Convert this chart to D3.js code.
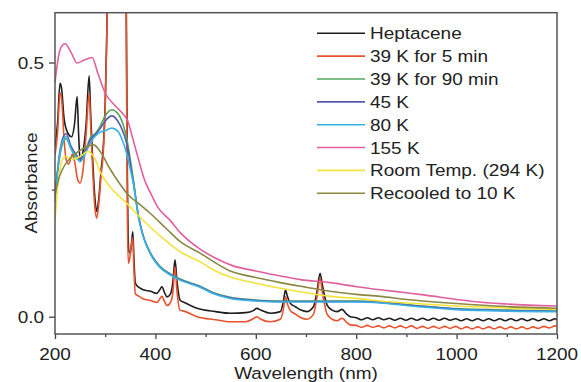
<!DOCTYPE html>
<html>
<head>
<meta charset="utf-8">
<script src="https://cdn.jsdelivr.net/npm/d3@7"></script>
<style>
  html, body { margin: 0; padding: 0; background: #fff; }
  svg { display: block; font-family: "Liberation Sans", Arial, Helvetica, sans-serif; }
</style>
</head>
<body>
<svg id="chart" width="581" height="382"></svg>
<script>
// Absorption spectra of heptacene under thermal treatment: [wavelength (nm), absorbance]
const heptacene = [
  [200,0.335],[205,0.38],[210,0.459],[213,0.45],[218,0.39],[223,0.367],[233,0.354],[239,0.38],
  [244,0.433],[247,0.36],[250,0.308],[255,0.32],[262,0.38],[268,0.474],[271,0.40],[275,0.31],
  [279,0.24],[283,0.207],[287,0.23],[292,0.29],[296,0.33],[300,0.42],[303,0.55],[306,0.72],
  [320,1.0],[338,0.95],[342,0.62],[344,0.30],[347,0.13],[350,0.125],[353,0.15],[355,0.167],
  [357,0.12],[360,0.066],[368,0.057],[376,0.053],[390,0.05],[403,0.046],[408,0.052],[413,0.059],
  [418,0.048],[423,0.039],[430,0.045],[435,0.07],[439,0.112],[443,0.07],[449,0.033],[460,0.027],
  [483,0.0165],[520,0.01],[549,0.0067],[580,0.008],[595,0.012],[602,0.0165],[610,0.013],[629,0.0067],
  [649,0.01],[655,0.03],[659,0.0525],[663,0.04],[669,0.026],[679,0.0197],[690,0.013],[702,0.01],
  [715,0.02],[722,0.05],[728,0.0854],[733,0.06],[742,0.023],[752,0.013],[762,0.01],[772,0.0145],
  [780,0.006],[788,0.0],[800,-0.002],[811,-0.006],[822,-0.002],[833,-0.006],[844,-0.002],[855,-0.006],
  [866,-0.003],[877,-0.007],[888,-0.003],[899,-0.007],[910,-0.003],[921,-0.007],[932,-0.003],[943,-0.007],
  [954,-0.003],[965,-0.007],[976,-0.003],[987,-0.007],[998,-0.004],[1009,-0.008],[1020,-0.004],[1031,-0.008],
  [1042,-0.004],[1053,-0.008],[1064,-0.004],[1075,-0.008],[1086,-0.004],[1097,-0.008],[1108,-0.004],[1119,-0.008],
  [1130,-0.004],[1141,-0.008],[1152,-0.004],[1163,-0.008],[1174,-0.004],[1185,-0.008],[1196,-0.004],[1200,-0.006]
];
const k39for5min = [
  [200,0.318],[205,0.36],[210,0.44],[213,0.43],[218,0.35],[222,0.31],[227,0.30],[235,0.32],
  [240,0.30],[245,0.27],[250,0.263],[256,0.29],[262,0.36],[268,0.44],[271,0.38],[275,0.29],
  [279,0.22],[283,0.194],[287,0.22],[292,0.28],[296,0.32],[300,0.41],[303,0.54],[306,0.72],
  [320,1.0],[338,0.95],[342,0.55],[344,0.22],[346,0.105],[348,0.11],[352,0.14],[355,0.155],
  [357,0.1],[360,0.045],[368,0.04],[376,0.035],[390,0.032],[403,0.028],[408,0.034],[413,0.04],
  [418,0.03],[423,0.022],[430,0.028],[435,0.05],[439,0.098],[443,0.05],[449,0.013],[460,0.01],
  [483,0.0],[520,-0.006],[549,-0.01],[580,-0.01],[595,-0.004],[602,0.0],[610,-0.005],[629,-0.01],
  [649,-0.005],[655,0.015],[659,0.039],[663,0.025],[669,0.012],[679,0.005],[690,-0.002],[702,-0.005],
  [715,0.005],[722,0.04],[728,0.075],[733,0.045],[742,0.005],[752,-0.005],[762,-0.008],[772,-0.003],
  [780,-0.01],[788,-0.016],[800,-0.017],[811,-0.021],[822,-0.017],[833,-0.021],[844,-0.018],[855,-0.022],
  [866,-0.018],[877,-0.022],[888,-0.018],[899,-0.022],[910,-0.018],[921,-0.023],[932,-0.019],[943,-0.023],
  [954,-0.019],[965,-0.023],[976,-0.019],[987,-0.023],[998,-0.019],[1009,-0.024],[1020,-0.020],[1031,-0.024],
  [1042,-0.020],[1053,-0.024],[1064,-0.020],[1075,-0.024],[1086,-0.020],[1097,-0.024],[1108,-0.020],[1119,-0.024],
  [1130,-0.020],[1141,-0.024],[1152,-0.020],[1163,-0.023],[1174,-0.019],[1185,-0.022],[1196,-0.018],[1200,-0.019]
];
const k39for90min = [
  [200,0.245],[207,0.30],[215,0.34],[222,0.35],[232,0.33],[245,0.31],[250,0.31],[260,0.325],
  [272,0.355],[280,0.36],[290,0.375],[300,0.395],[313,0.407],[325,0.40],[335,0.38],[343,0.35],
  [350,0.31],[356,0.27],[366,0.2],[375,0.162],[383,0.14],[395,0.117],[409,0.099],[430,0.084],
  [449,0.074],[489,0.06],[516,0.047],[549,0.038],[600,0.033],[649,0.031],[700,0.031],[748,0.031],
  [800,0.031],[848,0.029],[900,0.024],[1000,0.016],[1100,0.013],[1200,0.012]
];
const k45 = [
  [200,0.23],[207,0.305],[215,0.35],[222,0.36],[232,0.335],[245,0.315],[250,0.31],[260,0.325],
  [272,0.35],[280,0.358],[290,0.37],[300,0.385],[313,0.395],[325,0.385],[335,0.365],[343,0.34],
  [350,0.30],[356,0.265],[366,0.2],[375,0.161],[383,0.139],[395,0.116],[409,0.098],[430,0.083],
  [449,0.073],[489,0.059],[516,0.046],[549,0.037],[600,0.032],[649,0.030],[700,0.030],[748,0.030],
  [800,0.030],[848,0.028],[900,0.023],[1000,0.015],[1100,0.012],[1200,0.011]
];
const k80 = [
  [200,0.225],[207,0.30],[215,0.345],[222,0.354],[232,0.33],[245,0.31],[250,0.305],[260,0.32],
  [272,0.345],[280,0.355],[290,0.363],[300,0.366],[313,0.371],[325,0.365],[335,0.345],[343,0.32],
  [350,0.29],[356,0.263],[366,0.197],[375,0.16],[383,0.138],[395,0.115],[409,0.097],[430,0.082],
  [449,0.072],[489,0.058],[516,0.045],[549,0.036],[600,0.031],[649,0.029],[700,0.029],[748,0.029],
  [800,0.029],[848,0.027],[900,0.022],[1000,0.014],[1100,0.011],[1200,0.010]
];
const k155 = [
  [200,0.46],[205,0.50],[212,0.53],[220,0.537],[232,0.52],[244,0.499],[258,0.505],[274,0.51],
  [285,0.48],[300,0.44],[320,0.415],[337,0.397],[345,0.385],[355,0.35],[362,0.325],[369,0.30],
  [378,0.27],[389,0.246],[405,0.215],[429,0.19],[450,0.165],[489,0.133],[520,0.115],[555,0.1],
  [600,0.09],[649,0.08],[689,0.073],[748,0.067],[801,0.059],[848,0.053],[900,0.047],[934,0.043],
  [1000,0.034],[1033,0.030],[1100,0.025],[1200,0.021]
];
const roomTemp = [
  [200,0.19],[205,0.25],[212,0.30],[220,0.315],[235,0.31],[250,0.315],[265,0.325],[280,0.31],
  [290,0.285],[310,0.255],[330,0.235],[343,0.223],[360,0.205],[389,0.177],[420,0.15],[449,0.128],
  [489,0.108],[520,0.09],[549,0.078],[600,0.066],[649,0.056],[700,0.047],[748,0.040],[800,0.036],
  [848,0.031],[900,0.027],[1000,0.021],[1100,0.017],[1200,0.0145]
];
const recooled = [
  [200,0.24],[207,0.27],[215,0.29],[240,0.32],[260,0.333],[277,0.338],[290,0.325],[310,0.29],
  [330,0.26],[343,0.243],[370,0.22],[389,0.204],[420,0.175],[449,0.148],[489,0.125],[549,0.09],
  [600,0.077],[649,0.067],[700,0.058],[748,0.050],[800,0.044],[848,0.040],[900,0.034],[1000,0.026],
  [1100,0.020],[1200,0.0165]
];

const seriesNames = ["Heptacene", "39 K for 5 min", "39 K for 90 min", "45 K", "80 K", "155 K",
  "Room Temp. (294 K)", "Recooled to 10 K"];
const seriesData = [heptacene, k39for5min, k39for90min, k45, k80, k155, roomTemp, recooled];
const seriesColors = ["#1e1e1e", "#e8522c", "#4fa85e", "#5a58b0", "#38b2e4", "#e0609e", "#f2e33c", "#8a8842"];

const xTicks = [200, 400, 600, 800, 1000, 1200];
const xMinor = [300, 500, 700, 900, 1100];
const yTicks = [0.0, 0.5];
const yMinor = [0.25];

(function draw() {
  const svg = d3.select("#chart");
  const m = { left: 55, right: 557, top: 12.7, bottom: 334 };
  const x = d3.scaleLinear().domain([200, 1200]).range([m.left, m.right]);
  const y = d3.scaleLinear().domain([-0.034, 0.598]).range([m.bottom, m.top]);
  const sx = 1.15; // wide lettering

  svg.append("defs").append("clipPath").attr("id", "plotClip")
    .append("rect").attr("x", m.left).attr("y", m.top)
    .attr("width", m.right - m.left).attr("height", m.bottom - m.top);

  const line = d3.line().x(d => x(d[0])).y(d => y(d[1])).curve(d3.curveMonotoneX);

  const plot = svg.append("g").attr("clip-path", "url(#plotClip)");
  seriesData.forEach((data, i) => {
    plot.append("path").datum(data)
      .attr("fill", "none")
      .attr("stroke", seriesColors[i])
      .attr("stroke-width", 1.6)
      .attr("stroke-linejoin", "round")
      .attr("d", line);
  });

  // axes
  const xAxis = svg.append("g").attr("transform", `translate(0,${m.bottom})`)
    .call(d3.axisBottom(x).tickValues(xTicks).tickSize(5).tickFormat(""));
  const xAxisMinor = svg.append("g").attr("transform", `translate(0,${m.bottom})`)
    .call(d3.axisBottom(x).tickValues(xMinor).tickSize(3).tickFormat(""));
  const yAxis = svg.append("g").attr("transform", `translate(${m.left},0)`)
    .call(d3.axisLeft(y).tickValues(yTicks).tickSize(6).tickFormat(""));
  const yAxisMinor = svg.append("g").attr("transform", `translate(${m.left},0)`)
    .call(d3.axisLeft(y).tickValues(yMinor).tickSize(3).tickFormat(""));
  [xAxis, xAxisMinor, yAxis, yAxisMinor].forEach(g => {
    g.select(".domain").remove();
    g.selectAll(".tick line").attr("stroke", "#444").attr("stroke-width", 1.3);
  });

  // frame
  svg.append("rect").attr("x", m.left).attr("y", m.top)
    .attr("width", m.right - m.left).attr("height", m.bottom - m.top)
    .attr("fill", "none").attr("stroke", "#555").attr("stroke-width", 1.5);

  const fs = 16.5;
  xTicks.forEach(v => {
    svg.append("text").attr("transform", `translate(${x(v)},360) scale(${sx},1)`)
      .attr("text-anchor", "middle").attr("font-size", fs).attr("fill", "#222")
      .text(v);
  });
  yTicks.forEach(v => {
    svg.append("text").attr("transform", `translate(44,${y(v) + 6}) scale(${sx},1)`)
      .attr("text-anchor", "end").attr("font-size", fs).attr("fill", "#222")
      .text(d3.format(".1f")(v));
  });

  svg.append("text").attr("transform", `translate(306,379) scale(${sx},1)`)
    .attr("text-anchor", "middle").attr("font-size", fs).attr("fill", "#222")
    .text("Wavelength (nm)");
  svg.append("text").attr("transform", `translate(37,183) rotate(-90) scale(${sx},1)`)
    .attr("text-anchor", "middle").attr("font-size", fs).attr("fill", "#222")
    .text("Absorbance");

  // legend
  const legend = svg.append("g");
  seriesNames.forEach((name, i) => {
    const ry = 33.3 + i * 22.85;
    legend.append("line").attr("x1", 317).attr("x2", 365).attr("y1", ry).attr("y2", ry)
      .attr("stroke", seriesColors[i]).attr("stroke-width", 1.6);
    legend.append("text").attr("transform", `translate(370,${ry + 6}) scale(${sx},1)`)
      .attr("font-size", fs).attr("fill", "#222").text(name);
  });
})();
</script>
</body>
</html>
